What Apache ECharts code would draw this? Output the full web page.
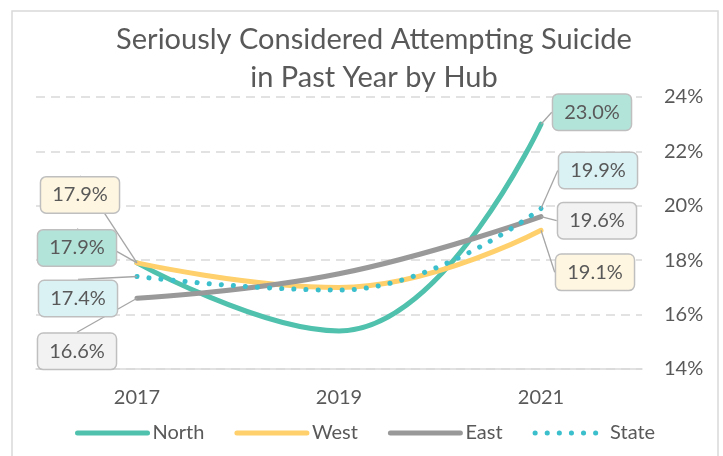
<!DOCTYPE html>
<html>
<head>
<meta charset="utf-8">
<script src="https://cdn.jsdelivr.net/npm/echarts@6/dist/echarts.min.js"></script>
<style>
  html, body { margin: 0; padding: 0; background: #fff; }
  #chart { width: 723px; height: 456px; }
</style>
</head>
<body>
<div id="chart"></div>
<script>
var myChart = echarts.init(document.getElementById('chart'));

var years = ['2017', '2019', '2021'];
var north = [17.9, 15.4, 23.0];
var west = [17.9, 17.0, 19.1];
var east = [16.6, 17.5, 19.6];
var state = [17.4, 16.9, 19.9];
var yTicks = [14, 16, 18, 20, 22, 24];

var textColor = '#595959';
var font = 'Lato';

// label box offsets (first point, last point)
var labelOffsets = {
    North: [[-60, -15], [51, -12]],
    West: [[-57, -68], [54, 42]],
    East: [[-60, 53], [56, 4]],
    State: [[-59, 22], [57, -38]]
};
var boxFill = {
    North: '#b3e4da',
    West: '#fff6e1',
    East: '#f2f2f2',
    State: '#dbf2f5'
};

function makeData(name, values) {
    return values.map(function (v, i) {
        if (i === 0 || i === values.length - 1) {
            return {
                value: v,
                symbol: 'circle',
                symbolSize: 0,
                label: {
                    show: true,
                    position: 'inside',
                    formatter: function (p) { return p.value.toFixed(1) + '%'; },
                    fontFamily: font,
                    fontSize: 20,
                    color: textColor,
                    backgroundColor: boxFill[name],
                    borderColor: '#bfbfbf',
                    borderWidth: 1.5,
                    borderRadius: 5,
                    padding: [8, 11, 7, 11]
                },
                labelLine: {
                    show: true,
                    length2: 10,
                    lineStyle: { color: '#a6a6a6', width: 1.3 }
                }
            };
        }
        return v;
    });
}

function makeSeries(name, values, color, extra) {
    var s = {
        name: name,
        type: 'line',
        smooth: 0.45,
        symbol: 'none',
        data: makeData(name, values),
        lineStyle: { color: color, width: 5, cap: 'round' },
        itemStyle: { color: color },
        labelLayout: function (params) {
            var off = labelOffsets[name][params.dataIndex === 0 ? 0 : 1];
            return { dx: off[0], dy: off[1] };
        },
        z: 2
    };
    if (extra) {
        s.lineStyle = Object.assign(s.lineStyle, extra);
    }
    return s;
}

option = {
    backgroundColor: '#fff',
    animation: false,
    title: {
        text: 'Seriously Considered Attempting Suicide\nin Past Year by Hub',
        left: 369,
        top: 16,
        textAlign: 'center',
        textStyle: {
            fontFamily: font,
            fontWeight: 'normal',
            fontSize: 29,
            lineHeight: 38,
            color: textColor
        }
    },
    graphic: [{
        type: 'rect',
        shape: { x: 12, y: 11, width: 706, height: 470 },
        style: { fill: 'none', stroke: '#d9d9d9', lineWidth: 1.5 },
        silent: true
    }],
    legend: {
        bottom: 8,
        left: 70,
        itemWidth: 70,
        itemHeight: 14,
        itemGap: 30,
        itemStyle: { opacity: 0 },
        lineStyle: { width: 5, cap: 'round' },
        textStyle: { fontFamily: font, fontSize: 20, color: textColor },
        data: ['North', 'West', 'East', 'State']
    },
    grid: {
        left: 36,
        right: 81,
        top: 97,
        bottom: 87
    },
    xAxis: {
        type: 'category',
        data: years,
        boundaryGap: true,
        axisLine: { lineStyle: { color: '#d9d9d9', width: 1.5 } },
        axisTick: { show: false },
        axisLabel: { fontFamily: font, fontSize: 20, color: textColor, margin: 19 }
    },
    yAxis: {
        type: 'value',
        position: 'right',
        min: yTicks[0],
        max: yTicks[yTicks.length - 1],
        interval: 2,
        axisLine: { show: false },
        axisTick: { show: false },
        axisLabel: { fontFamily: font, fontSize: 20, color: textColor, margin: 22, formatter: '{value}%' },
        splitLine: { lineStyle: { color: '#d9d9d9', width: 1.5, type: [9, 6] } }
    },
    series: [
        makeSeries('North', north, '#4fc1ad'),
        makeSeries('West', west, '#ffd06b'),
        makeSeries('East', east, '#999999'),
        makeSeries('State', state, '#3bbfcc', { type: [0.1, 12], width: 5 })
    ]
};

myChart.setOption(option);
</script>
</body>
</html>
